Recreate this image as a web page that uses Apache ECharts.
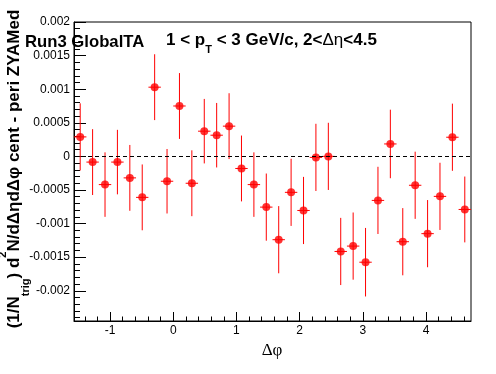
<!DOCTYPE html>
<html><head><meta charset="utf-8">
<script src="https://cdn.jsdelivr.net/npm/echarts@6/dist/echarts.min.js"></script>
<style>html,body{margin:0;padding:0;background:#fff}#c{width:496px;height:374px}</style>
</head><body><div id="c"></div>
<script>
// Bin centres (Δφ) of the 32-bin histogram from -π/2 to 3π/2
const dphi = [-1.4726,-1.2763,-1.0799,-0.8836,-0.6872,-0.4909,-0.2945,-0.0982,
  0.0982,0.2945,0.4909,0.6872,0.8836,1.0799,1.2763,1.4726,
  1.6690,1.8653,2.0617,2.2580,2.4544,2.6507,2.8471,3.0434,
  3.2398,3.4361,3.6325,3.8288,4.0252,4.2215,4.4179,4.6142];
const yieldVals = [0.00029,-0.000085,-0.00042,-0.000085,-0.00032,-0.00061,0.00103,-0.00037,
  0.00075,-0.00040,0.000375,0.000315,0.00045,-0.00018,-0.00042,-0.000755,
  -0.00124,-0.000535,-0.000805,-0.000015,0.0,-0.001415,-0.001335,-0.001575,
  -0.000655,0.000185,-0.00127,-0.00043,-0.00115,-0.000595,0.000285,-0.00079];
const yieldErr = [0.00050,0.00049,0.00048,0.00048,0.00049,0.00049,0.00049,0.00048,
  0.00049,0.00049,0.00048,0.00048,0.00049,0.00049,0.00048,0.00050,
  0.00050,0.00050,0.00050,0.00050,0.00050,0.00050,0.00050,0.00051,
  0.00050,0.00051,0.00050,0.00050,0.00050,0.00050,0.00050,0.00049];
const binHalfWidth = Math.PI / 32;
const xMin = -Math.PI / 2, xMax = 3 * Math.PI / 2;
const yMin = -0.00245, yMax = 0.002;
const xMajorTicks = [-1, 0, 1, 2, 3, 4];
const xMinorTicks = [-1.4,-1.2,-0.8,-0.6,-0.4,-0.2,0.2,0.4,0.6,0.8,1.2,1.4,1.6,1.8,2.2,2.4,2.6,2.8,3.2,3.4,3.6,3.8,4.2,4.4,4.6];
const yMajorTicks = [-0.002,-0.0015,-0.001,-0.0005,0,0.0005,0.001,0.0015,0.002];
const yMinorTicks = [];
for (let k = -24; k <= 20; k++) { if (k % 5 !== 0) yMinorTicks.push(k / 10000); }

const red = '#ff0000';
const font = 'Liberation Sans';
const chart = echarts.init(document.getElementById('c'), null, {renderer: 'canvas'});
const pts = dphi.map((x, i) => [x, yieldVals[i], yieldErr[i]]);

chart.setOption({
  animation: false,
  backgroundColor: '#fff',
  grid: {left: 74, top: 22, right: 25, bottom: 53, show: true, borderColor: '#000', borderWidth: 1, backgroundColor: 'transparent'},
  xAxis: [{
    type: 'value', min: xMin, max: xMax, position: 'bottom',
    axisLine: {show: true, onZero: false, lineStyle: {color: '#000', width: 1}},
    splitLine: {show: false},
    axisTick: {show: true, inside: true, length: 9, customValues: xMajorTicks, lineStyle: {color: '#000'}},
    axisLabel: {show: true, customValues: xMajorTicks, margin: 4, color: '#000', fontFamily: font, fontSize: 12,
      formatter: v => String(v)}
  }, {
    type: 'value', min: xMin, max: xMax, position: 'bottom', offset: 0,
    axisLine: {show: false, onZero: false}, splitLine: {show: false},
    axisTick: {show: true, inside: true, length: 4.5, customValues: xMinorTicks, lineStyle: {color: '#000'}},
    axisLabel: {show: false}
  }],
  yAxis: [{
    type: 'value', min: yMin, max: yMax, position: 'left',
    axisLine: {show: true, onZero: false, lineStyle: {color: '#000', width: 1}},
    splitLine: {show: false},
    axisTick: {show: true, inside: true, length: 12, customValues: yMajorTicks, lineStyle: {color: '#000'}},
    axisLabel: {show: true, customValues: yMajorTicks, margin: 4, color: '#000', fontFamily: font, fontSize: 12,
      formatter: v => String(v)}
  }, {
    type: 'value', min: yMin, max: yMax, position: 'left', offset: 0,
    axisLine: {show: false, onZero: false}, splitLine: {show: false},
    axisTick: {show: true, inside: true, length: 6, customValues: yMinorTicks, lineStyle: {color: '#000'}},
    axisLabel: {show: false}
  }],
  series: [{
    type: 'custom',
    clip: true,
    data: pts,
    renderItem: function (params, api) {
      const x = api.value(0), y = api.value(1), e = api.value(2);
      const c = api.coord([x, y]);
      const lo = api.coord([x, y - e]);
      const hi = api.coord([x, y + e]);
      const l = api.coord([x - binHalfWidth, y]);
      const r = api.coord([x + binHalfWidth, y]);
      return {type: 'group', children: [
        {type: 'line', shape: {x1: c[0], y1: lo[1], x2: c[0], y2: hi[1]}, style: {stroke: red, lineWidth: 1}},
        {type: 'line', shape: {x1: l[0], y1: c[1], x2: r[0], y2: c[1]}, style: {stroke: red, lineWidth: 1}}
      ]};
    },
    markLine: {
      silent: true, symbol: 'none', label: {show: false},
      lineStyle: {color: '#000', width: 1, type: [4, 3]},
      data: [{yAxis: 0}]
    },
    z: 2
  }, {
    type: 'scatter',
    data: pts.map(p => [p[0], p[1]]),
    symbol: 'circle', symbolSize: 8,
    itemStyle: {color: red},
    z: 3
  }],
  graphic: [
    {type: 'text', x: 25, y: 42, z: 10,
      style: {text: 'Run3 GlobalTA', fontFamily: font, fontWeight: 'bold', fontSize: 16.7, fill: '#000',
        textAlign: 'left', textVerticalAlign: 'middle'}},
    {type: 'text', x: 166, y: 40.5, z: 10,
      style: {text: '{n|1 < p}{s|T}{n| < 3 GeV/c, 2<}{g|Δη}{n|<4.5}', fill: '#000', textAlign: 'left', textVerticalAlign: 'middle',
        rich: {
          n: {fontFamily: font, fontWeight: 'bold', fontSize: 17, lineHeight: 29, verticalAlign: 'middle', fill: '#000'},
          g: {fontFamily: font, fontWeight: 'normal', fontSize: 17, lineHeight: 29, verticalAlign: 'middle', fill: '#000'},
          s: {fontFamily: font, fontWeight: 'bold', fontSize: 11, lineHeight: 10, verticalAlign: 'bottom', fill: '#000'}
        }}},
    {type: 'text', x: 272, y: 351, z: 10,
      style: {text: 'Δφ', fontFamily: 'Liberation Serif', fontSize: 17, fill: '#000', textAlign: 'center', textVerticalAlign: 'middle'}},
    {type: 'text', x: 14, y: 169, rotation: Math.PI / 2, z: 10,
      style: {text: '{n|(1/N}{s|trig}{n|) d}{p|2}{n|N/dΔηdΔφ cent - peri ZYAMed}', fill: '#000', textAlign: 'center', textVerticalAlign: 'middle',
        rich: {
          n: {fontFamily: font, fontWeight: 'bold', fontSize: 17, lineHeight: 34, verticalAlign: 'middle', fill: '#000'},
          s: {fontFamily: font, fontWeight: 'bold', fontSize: 11, lineHeight: 10, verticalAlign: 'bottom', fill: '#000'},
          p: {fontFamily: font, fontWeight: 'bold', fontSize: 11, lineHeight: 19, verticalAlign: 'top', fill: '#000'}
        }}}
  ]
});
</script></body></html>
